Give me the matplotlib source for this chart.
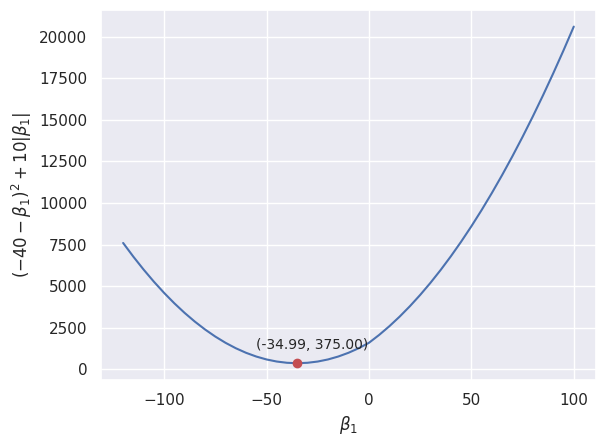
import matplotlib
matplotlib.use("Agg")
import matplotlib.pyplot as plt
import seaborn as sns

# values, every 5 units of beta_1
beta1 = [-120, -115, -110, -105, -100, -95, -90, -85, -80, -75, -70, -65,
         -60, -55, -50, -45, -40, -35, -30, -25, -20, -15, -10, -5, 0,
         5, 10, 15, 20, 25, 30, 35, 40, 45, 50, 55, 60, 65, 70, 75, 80,
         85, 90, 95, 100]
loss = [7600, 6775, 6000, 5275, 4600, 3975, 3400, 2875, 2400, 1975, 1600,
        1275, 1000, 775, 600, 475, 400, 375, 400, 475, 600, 775, 1000, 1275,
        1600, 2075, 2600, 3175, 3800, 4475, 5200, 5975, 6800, 7675, 8600,
        9575, 10600, 11675, 12800, 13975, 15200, 16475, 17800, 19175, 20600]

# minimum point
min_x = -34.99
min_y = 375.00

sns.set_theme()

fig, ax = plt.subplots(figsize=(6.06, 4.45), dpi=100)
fig.subplots_adjust(left=0.166, right=0.984, top=0.978, bottom=0.146)

ax.plot(beta1, loss)
ax.plot(min_x, min_y, 'ro')
ax.annotate("(%.2f, %.2f)" % (min_x, min_y), (min_x, min_y),
            textcoords="offset points", xytext=(11, 10), ha='center',
            fontsize=10)

ax.set_xlabel(r"$\beta_1$")
ax.set_ylabel(r"$(-40 - \beta_1)^2 + 10|\beta_1|$")

fig.savefig("out.png")
